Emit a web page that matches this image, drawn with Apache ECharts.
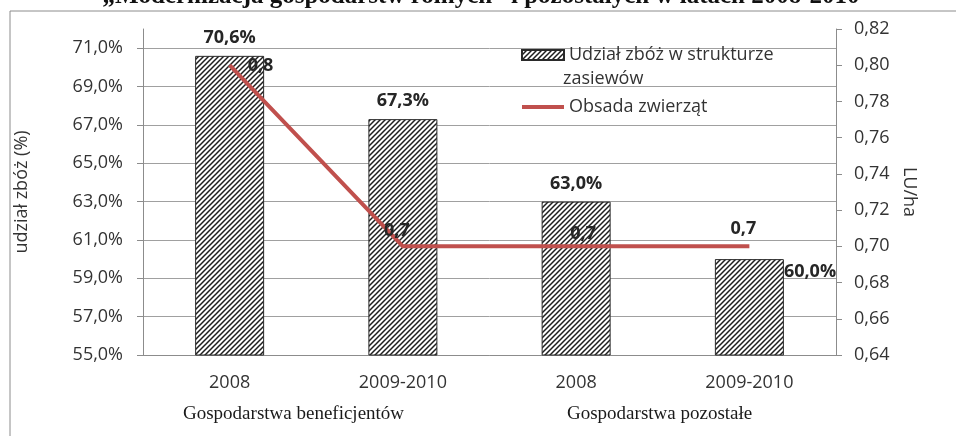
<!DOCTYPE html>
<html>
<head>
<meta charset="utf-8">
<script src="https://cdn.jsdelivr.net/npm/echarts@6/dist/echarts.min.js"></script>
<style>
html, body { margin: 0; padding: 0; background: #fff; }
#chart { width: 956px; height: 436px; }
</style>
</head>
<body>
<div id="chart"></div>
<script>
"use strict";

/*****Data*****/
var categories = ['2008', '2009-2010', '2008', '2009-2010'];
var groups = ['Gospodarstwa beneficjentów', 'Gospodarstwa pozostałe'];
var cerealShare = [70.6, 67.3, 63.0, 60.0];
var livestock = [0.8, 0.7, 0.7, 0.7];
var leftTicks = [55, 57, 59, 61, 63, 65, 67, 69, 71];
var barName = 'Udział zbóż w strukturze zasiewów';
var lineName = 'Obsada zwierząt';
var titleText = '„Modernizacja gospodarstw rolnych” i pozostałych w latach 2008-2010';

/*****Helpers*****/
var pct = function (v) { return v.toFixed(1).replace('.', ',') + '%'; };
var dec = function (v, n) { return v.toFixed(n).replace('.', ','); };

// hatch "////"
var hatch = document.createElement('canvas');
hatch.width = 5; hatch.height = 5;
var hc = hatch.getContext('2d');
hc.fillStyle = '#fff';
hc.fillRect(0, 0, 5, 5);
hc.strokeStyle = '#1e1e1e';
hc.lineWidth = 1.5;
hc.beginPath();
hc.moveTo(0, 5); hc.lineTo(5, 0);
hc.moveTo(-1, 1); hc.lineTo(1, -1);
hc.moveTo(4, 6); hc.lineTo(6, 4);
hc.stroke();

var font = "'Open Sans', sans-serif";
var serif = "'Liberation Serif', serif";
var axisGray = '#8c8c8c';

/*****Chart*****/
var chart = echarts.init(document.getElementById('chart'));

var barData = cerealShare.map(function (v, i) {
	var item = { value: v };
	if (i === cerealShare.length - 1) {
		item.label = { position: ['100%', 13], align: 'left', verticalAlign: 'middle', distance: 0 };
	}
	return item;
});

var lineLabelPos = [
	{ show: true, position: 'right', distance: 18, offset: [0, 1] },
	{ show: true, position: 'top', distance: 6, offset: [-6, 0] },
	{ show: true, position: 'top', distance: 6, offset: [7, 3] },
	{ show: true, position: 'top', distance: 6, offset: [-6, -2] }
];
var lineData = livestock.map(function (v, i) {
	return { value: v, label: lineLabelPos[i] };
});

var option = {
	animation: false,
	textStyle: { fontFamily: font },
	grid: { left: 143, right: 120, top: 29, bottom: 81 },
	legend: {
		orient: 'vertical',
		left: 515,
		top: 37,
		itemWidth: 42,
		itemHeight: 10,
		itemGap: 26,
		textStyle: { fontFamily: font, fontSize: 18, color: '#333', lineHeight: 26 },
		formatter: function (name) {
			return name === barName ? 'Udział zbóż w strukturze' : name;
		},
		data: [
			{ name: barName, icon: 'rect' },
			{ name: lineName, itemStyle: { opacity: 0 }, lineStyle: { width: 4 } }
		]
	},
	xAxis: {
		type: 'category',
		data: categories,
		axisLine: { lineStyle: { color: axisGray } },
		axisTick: { length: 6, lineStyle: { color: axisGray } },
		axisLabel: { fontFamily: font, fontSize: 18, color: '#333', margin: 19 }
	},
	yAxis: [
		{
			type: 'value',
			position: 'left',
			min: 55,
			max: 72,
			name: 'udział zbóż (%)',
			nameLocation: 'middle',
			nameRotate: 90,
			nameGap: 112,
			nameTextStyle: { fontFamily: font, fontSize: 18, color: '#333' },
			axisLine: { show: true, lineStyle: { color: axisGray } },
			axisTick: { show: true, length: 6, lineStyle: { color: axisGray }, customValues: leftTicks },
			axisLabel: { fontFamily: font, fontSize: 18, color: '#333', margin: 20, customValues: leftTicks, formatter: pct },
			splitLine: { show: true, lineStyle: { color: '#a0a0a0', width: 1 } }
		},
		{
			type: 'value',
			position: 'right',
			min: 0.64,
			max: 0.82,
			interval: 0.02,
			name: 'LU/ha',
			nameLocation: 'middle',
			nameRotate: -90,
			nameGap: 59,
			nameTextStyle: { fontFamily: font, fontSize: 18, color: '#333' },
			axisLine: { show: true, lineStyle: { color: axisGray } },
			axisTick: { show: true, length: 6, lineStyle: { color: axisGray } },
			axisLabel: { fontFamily: font, fontSize: 18, color: '#333', margin: 18, formatter: function (v) { return dec(v, 2); } },
			splitLine: { show: false }
		}
	],
	series: [
		{
			name: barName,
			type: 'bar',
			yAxisIndex: 0,
			barWidth: 69,
			itemStyle: {
				color: { image: hatch, repeat: 'repeat' },
				borderColor: '#2a2a2a',
				borderWidth: 1
			},
			label: {
				show: true,
				position: 'top',
				distance: 9,
				fontFamily: font,
				fontSize: 18,
				fontWeight: 'bold',
				color: '#262626',
				formatter: function (p) { return pct(p.value); }
			},
			data: barData
		},
		{
			name: lineName,
			type: 'line',
			yAxisIndex: 1,
			symbol: 'circle',
			symbolSize: 0.01,
			showSymbol: true,
			lineStyle: { color: '#c0504d', width: 4 },
			itemStyle: { color: '#c0504d' },
			label: {
				show: true,
				fontFamily: font,
				fontSize: 18,
				fontWeight: 'bold',
				color: '#262626',
				formatter: function (p) { return dec(p.value, 1); }
			},
			z: 3,
			data: lineData
		}
	],
	graphic: [
		{
			type: 'line',
			shape: { x1: 10, y1: 11, x2: 956, y2: 11 },
			style: { stroke: '#8c8c8c', lineWidth: 1 }
		},
		{
			type: 'line',
			shape: { x1: 10, y1: 11, x2: 10, y2: 436 },
			style: { stroke: '#8c8c8c', lineWidth: 1 }
		},
		{
			type: 'text',
			x: 481,
			y: -3,
			style: {
				text: titleText,
				fontFamily: serif,
				fontWeight: 'bold',
				fontSize: 25,
				fill: '#111',
				align: 'center',
				verticalAlign: 'middle'
			}
		},
		{
			type: 'text',
			x: 563,
			y: 79,
			style: {
				text: 'zasiewów',
				fontFamily: font,
				fontSize: 18,
				fill: '#333',
				align: 'left',
				verticalAlign: 'middle'
			}
		},
		{
			type: 'text',
			x: 183,
			y: 414,
			style: {
				text: groups[0],
				fontFamily: serif,
				fontSize: 19,
				fill: '#1a1a1a',
				align: 'left',
				verticalAlign: 'middle'
			}
		},
		{
			type: 'text',
			x: 567,
			y: 414,
			style: {
				text: groups[1],
				fontFamily: serif,
				fontSize: 19,
				fill: '#1a1a1a',
				align: 'left',
				verticalAlign: 'middle'
			}
		}
	]
};

chart.setOption(option);
</script>
</body>
</html>
